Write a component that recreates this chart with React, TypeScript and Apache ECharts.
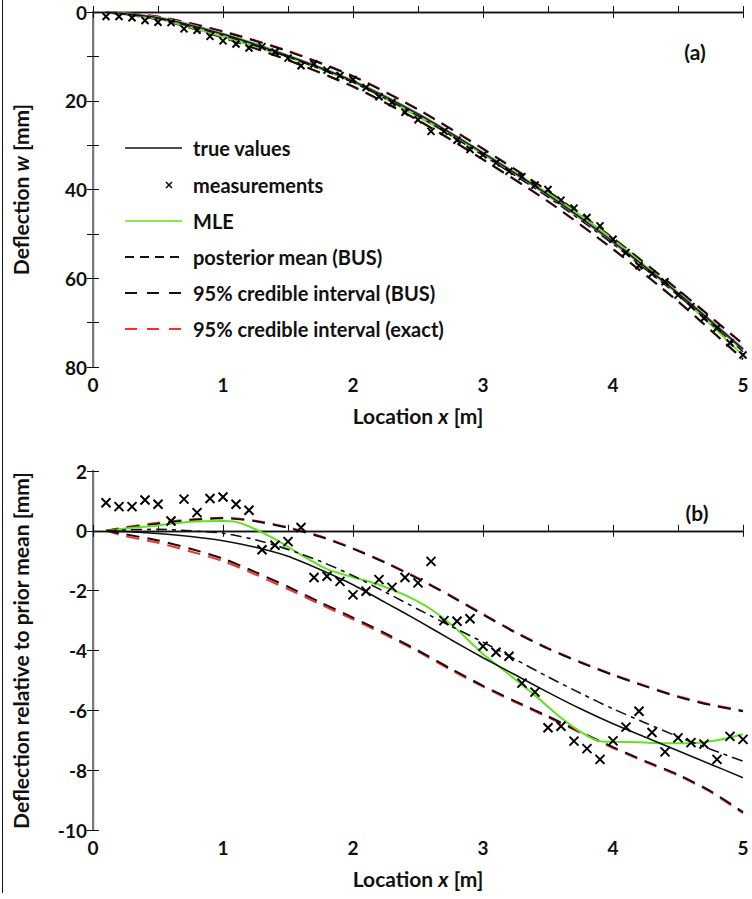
import React, { useEffect, useRef } from "react";
import * as echarts from "echarts";

// ---------- panel (b): deflection relative to prior mean [mm] ----------
const measX = [
  0.1, 0.2, 0.3, 0.4, 0.5, 0.6, 0.7, 0.8, 0.9, 1.0,
  1.1, 1.2, 1.3, 1.4, 1.5, 1.6, 1.7, 1.8, 1.9, 2.0,
  2.1, 2.2, 2.3, 2.4, 2.5, 2.6, 2.7, 2.8, 2.9, 3.0,
  3.1, 3.2, 3.3, 3.4, 3.5, 3.6, 3.7, 3.8, 3.9, 4.0,
  4.1, 4.2, 4.3, 4.4, 4.5, 4.6, 4.7, 4.8, 4.9, 5.0,
];
const relMeas = [
  0.94, 0.81, 0.81, 1.03, 0.89, 0.33, 1.06, 0.61, 1.08, 1.13,
  0.89, 0.69, -0.63, -0.48, -0.36, 0.11, -1.56, -1.52, -1.69, -2.14,
  -2.02, -1.63, -1.89, -1.56, -1.74, -1.02, -3.0, -3.02, -2.94, -3.86,
  -4.06, -4.19, -5.09, -5.39, -6.58, -6.53, -7.03, -7.28, -7.64, -7.02,
  -6.56, -6.03, -6.74, -7.39, -6.92, -7.08, -7.13, -7.64, -6.87, -6.97,
];

const relX = [0.1, 0.25, 0.5, 0.75, 1.0, 1.25, 1.5, 1.75, 2.0, 2.25, 2.5, 2.75, 3.0, 3.25, 3.5, 3.75, 4.0, 4.25, 4.5, 4.75, 5.0];
const relTrue = [0, -0.02, -0.09, -0.19, -0.33, -0.55, -0.85, -1.3, -1.8, -2.4, -3.0, -3.63, -4.24, -4.82, -5.4, -5.95, -6.45, -6.9, -7.35, -7.8, -8.25];
const relMean = [0, 0.03, 0.05, 0.0, -0.08, -0.3, -0.62, -1.02, -1.5, -2.05, -2.62, -3.18, -3.72, -4.3, -4.88, -5.43, -5.95, -6.42, -6.88, -7.3, -7.7];
const relBusHi = [0, 0.1, 0.24, 0.36, 0.42, 0.32, 0.1, -0.2, -0.6, -1.07, -1.6, -2.18, -2.8, -3.4, -3.94, -4.4, -4.82, -5.2, -5.55, -5.82, -6.03];
const relBusLo = [0, -0.12, -0.32, -0.6, -0.93, -1.38, -1.87, -2.39, -2.9, -3.43, -4.0, -4.6, -5.18, -5.7, -6.2, -6.72, -7.23, -7.7, -8.15, -8.7, -9.4];
const relExactHi = [0, 0.12, 0.27, 0.38, 0.44, 0.34, 0.12, -0.18, -0.58, -1.05, -1.58, -2.16, -2.78, -3.38, -3.92, -4.38, -4.8, -5.18, -5.53, -5.8, -6.01];
const relExactLo = [0, -0.18, -0.4, -0.69, -1.01, -1.46, -1.95, -2.46, -2.96, -3.48, -4.04, -4.64, -5.21, -5.73, -6.23, -6.75, -7.26, -7.73, -8.18, -8.73, -9.44];

const mleX = [0.1, 0.3, 0.5, 0.75, 1.0, 1.1, 1.2, 1.4, 1.6, 1.8, 2.0, 2.2, 2.4, 2.6, 2.8, 3.0, 3.2, 3.4, 3.6, 3.75, 3.9, 4.0, 4.2, 4.4, 4.6, 4.8, 5.0];
const relMle = [0, 0.1, 0.18, 0.3, 0.33, 0.3, 0.15, -0.28, -0.8, -1.28, -1.55, -1.8, -2.15, -2.62, -3.3, -4.12, -4.8, -5.5, -6.25, -6.72, -7.03, -7.05, -7.07, -7.1, -7.1, -7.0, -6.8];

// ---------- panel (a): deflection w [mm] ----------
const wMeas = [
  1.0, 1.0, 1.3, 1.9, 2.3, 2.4, 3.8, 4.1, 5.5, 6.5,
  7.2, 8.1, 7.8, 9.0, 10.4, 12.1, 11.7, 13.1, 14.3, 15.2,
  17.0, 19.1, 20.4, 22.6, 24.3, 26.9, 26.9, 28.9, 31.0, 32.2,
  34.0, 35.9, 37.1, 39.0, 40.0, 42.4, 44.2, 46.3, 48.2, 51.2,
  54.2, 57.2, 59.0, 60.8, 63.8, 66.4, 69.0, 71.2, 74.6, 77.3,
];
const wX = [0.1, 0.5, 1.0, 1.5, 2.0, 2.5, 3.0, 3.5, 4.0, 4.5, 5.0];
const wTrue = [0.05, 1.3, 5.0, 9.9, 15.6, 23.0, 31.8, 41.2, 51.8, 63.4, 76.0];
const wMle = [0.05, 1.57, 5.66, 10.2, 15.83, 23.65, 31.93, 40.78, 51.2, 63.65, 77.45];
const wMean = [0.05, 1.44, 5.25, 10.12, 15.88, 23.4, 32.33, 41.72, 52.3, 63.87, 76.55];
const wBusHi = [0.05, 1.63, 5.75, 10.82, 16.78, 24.38, 33.23, 42.65, 53.43, 65.2, 78.22];
const wBusLo = [0.05, 1.07, 4.41, 8.86, 14.5, 21.98, 30.85, 40.4, 51.0, 62.62, 74.85];
const wExactHi = [0.05, 1.66, 5.8, 10.9, 16.85, 24.45, 33.3, 42.72, 53.5, 65.27, 78.3];
const wExactLo = [0.05, 1.0, 4.3, 8.75, 14.4, 21.9, 30.78, 40.33, 50.93, 62.55, 74.78];

const zip = (xs: number[], ys: number[]) => xs.map((x, i) => [x, ys[i]]);

const FONT = "Lato, 'Open Sans', sans-serif";
const GREEN = "#5fe31c";
const RED = "#ff2a2a";
const INK = "#111";
const CROSS = "path://M0 0L10 10M10 0L0 10";
const DASH = [13, 8];
const DASHDOT = [11, 5, 4, 5];

const tickLabel = { fontFamily: FONT, fontSize: 19, fontWeight: "bold" as const, color: INK };
const nameStyle = (size: number) => ({
  fontFamily: FONT,
  fontSize: size,
  fontWeight: "bold" as const,
  color: INK,
  rich: { i: { fontFamily: FONT, fontSize: size, fontWeight: "bold" as const, fontStyle: "italic" as const, color: INK } },
});

// ticks every 0.5 m, labels on whole metres only
const xLabel = (v: number) => (Math.abs(v - Math.round(v)) < 1e-6 ? String(Math.round(v)) : "");

function xAxisPair(grid: number) {
  return [
    {
      type: "value",
      gridIndex: grid,
      position: "bottom",
      min: 0,
      max: 5,
      interval: 0.5,
      axisLine: { lineStyle: { color: INK, width: 1.3 } },
      axisTick: { inside: true, length: 6, lineStyle: { color: INK } },
      axisLabel: { ...tickLabel, margin: 8, formatter: xLabel },
      splitLine: { show: false },
      name: "Location {i|x} [m]",
      nameLocation: "middle",
      nameGap: 38,
      nameTextStyle: nameStyle(21),
    },
    {
      type: "value",
      gridIndex: grid,
      position: "top",
      min: 0,
      max: 5,
      interval: 1,
      axisLine: { lineStyle: { color: INK, width: 1.3 } },
      axisTick: { inside: true, length: 6, lineStyle: { color: INK } },
      axisLabel: { show: false },
      splitLine: { show: false },
    },
  ];
}

function yAxisPair(grid: number, min: number, max: number, interval: number, labelEvery: number, inverse: boolean, name: string, gap: number) {
  return [
    {
      type: "value",
      gridIndex: grid,
      position: "left",
      inverse,
      min,
      max,
      interval,
      axisLine: { lineStyle: { color: INK, width: 1.3 } },
      axisTick: { inside: true, length: 6, lineStyle: { color: INK } },
      axisLabel: {
        ...tickLabel,
        margin: 6,
        formatter: (v: number) => (Math.round(v) % labelEvery === 0 ? String(Math.round(v)) : ""),
      },
      splitLine: { show: false },
      name,
      nameLocation: "middle",
      nameGap: gap,
      nameRotate: 90,
      nameTextStyle: nameStyle(21),
    },
    {
      type: "value",
      gridIndex: grid,
      position: "right",
      inverse,
      min,
      max,
      interval,
      axisLine: { lineStyle: { color: "#7a7a7a", width: 2 } },
      axisTick: { inside: true, length: 6, lineStyle: { color: INK } },
      axisLabel: { show: false },
      splitLine: { show: false },
    },
  ];
}

function lineSeries(xi: number, yi: number, data: number[][], color: string, width: number, type: any, z: number, name?: string) {
  return {
    type: "line",
    name,
    xAxisIndex: xi,
    yAxisIndex: yi,
    data,
    smooth: 0.25,
    showSymbol: false,
    symbol: "none",
    z,
    lineStyle: { color, width, type },
  };
}

function scatterSeries(xi: number, yi: number, data: number[][], size: number) {
  return {
    type: "scatter",
    name: "measurements",
    xAxisIndex: xi,
    yAxisIndex: yi,
    data,
    symbol: CROSS,
    symbolSize: size,
    z: 10,
    itemStyle: { color: "transparent", borderColor: "#000", borderWidth: 2, opacity: 1 },
  };
}

function legendGraphics() {
  const x1 = 125;
  const x2 = 182;
  const tx = 193;
  const rows = [148, 185, 221, 257, 293, 329];
  const labels = [
    "true values",
    "measurements",
    "MLE",
    "posterior mean (BUS)",
    "95% credible interval (BUS)",
    "95% credible interval (exact)",
  ];
  const out: any[] = [];
  const seg = (y: number, stroke: string, lineWidth: number, lineDash?: number[]) => ({
    type: "line",
    shape: { x1, y1: y, x2, y2: y },
    style: { stroke, lineWidth, lineDash },
    z: 100,
  });
  out.push(seg(rows[0], INK, 1.5));
  out.push({ type: "line", shape: { x1: 166, y1: rows[1] - 3, x2: 172, y2: rows[1] + 3 }, style: { stroke: INK, lineWidth: 1.6 }, z: 100 });
  out.push({ type: "line", shape: { x1: 172, y1: rows[1] - 3, x2: 166, y2: rows[1] + 3 }, style: { stroke: INK, lineWidth: 1.6 }, z: 100 });
  out.push(seg(rows[2], GREEN, 1.5));
  out.push(seg(rows[3], INK, 1.8, [9, 6]));
  out.push(seg(rows[4], INK, 1.8, [12, 10]));
  out.push(seg(rows[5], RED, 1.8, [12, 10]));
  labels.forEach((t, i) =>
    out.push({
      type: "text",
      x: tx,
      y: rows[i],
      z: 100,
      style: { text: t, fontFamily: FONT, fontSize: 20, fontWeight: "bold", fill: INK, verticalAlign: "middle", align: "left" },
    })
  );
  return out;
}

export default function App() {
  const ref = useRef<HTMLDivElement>(null);

  useEffect(() => {
    if (!ref.current) return;
    const chart = echarts.init(ref.current, null, { renderer: "svg" });

    const option: any = {
      animation: false,
      backgroundColor: "#ffffff",
      grid: [
        { left: 93, top: 12, width: 650, height: 355 },
        { left: 93, top: 471, width: 650, height: 359 },
      ],
      xAxis: [...xAxisPair(0), ...xAxisPair(1)],
      yAxis: [
        ...yAxisPair(0, 0, 80, 10, 20, true, "Deflection {i|w} [mm]", 62),
        ...yAxisPair(1, -10, 2, 2, 2, false, "Deflection relative to prior mean [mm]", 62),
      ],
      series: [
        // panel (a)
        lineSeries(0, 0, zip(wX, wExactHi), RED, 2, DASH, 2),
        lineSeries(0, 0, zip(wX, wExactLo), RED, 2, DASH, 2),
        lineSeries(0, 0, zip(wX, wBusHi), INK, 2, DASH, 3),
        lineSeries(0, 0, zip(wX, wBusLo), INK, 2, DASH, 3),
        lineSeries(0, 0, zip(wX, wTrue), "#8c8c8c", 3.2, "solid", 4),
        lineSeries(0, 0, zip(wX, wMle), GREEN, 1.6, "solid", 5),
        lineSeries(0, 0, zip(wX, wMean), INK, 1.4, DASHDOT, 6),
        lineSeries(0, 0, zip(wX, wTrue), INK, 1.2, "solid", 7),
        scatterSeries(0, 0, zip(measX, wMeas), 7),
        // panel (b)
        lineSeries(2, 2, zip(relX, relExactHi), RED, 2, DASH, 2),
        lineSeries(2, 2, zip(relX, relExactLo), RED, 2, DASH, 2),
        lineSeries(2, 2, zip(relX, relBusHi), INK, 2, DASH, 3),
        lineSeries(2, 2, zip(relX, relBusLo), INK, 2, DASH, 3),
        lineSeries(2, 2, zip(mleX, relMle), GREEN, 2, "solid", 5),
        lineSeries(2, 2, zip(relX, relMean), INK, 1.6, DASHDOT, 6),
        lineSeries(2, 2, zip(relX, relTrue), INK, 1.6, "solid", 7),
        scatterSeries(2, 2, zip(measX, relMeas), 9),
      ],
      graphic: [
        ...legendGraphics(),
        {
          type: "text",
          x: 695,
          y: 51,
          style: { text: "(a)", fontFamily: FONT, fontSize: 21, fontWeight: "bold", fill: INK, align: "center", verticalAlign: "middle" },
        },
        {
          type: "text",
          x: 697,
          y: 512,
          style: { text: "(b)", fontFamily: FONT, fontSize: 21, fontWeight: "bold", fill: INK, align: "center", verticalAlign: "middle" },
        },
        {
          type: "line",
          shape: { x1: 2.5, y1: 0, x2: 2.5, y2: 893 },
          style: { stroke: INK, lineWidth: 1 },
        },
      ],
    };

    chart.setOption(option);
    return () => chart.dispose();
  }, []);

  return <div ref={ref} style={{ position: "absolute", left: 0, top: 0, width: 752, height: 899 }} />;
}
